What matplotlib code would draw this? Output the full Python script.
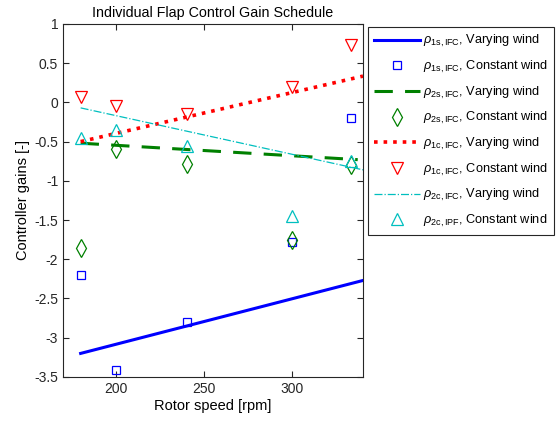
import matplotlib.pyplot as plt

plt.rcParams['font.family'] = ['Liberation Sans', 'DejaVu Sans']
plt.rcParams['mathtext.fontset'] = 'custom'
plt.rcParams['mathtext.rm'] = 'Liberation Sans'
plt.rcParams['mathtext.it'] = 'Liberation Sans:italic'

# Constant wind test points
rpm = [180, 200, 240, 300, 333]
rho_1s = [-2.2, -3.41, -2.8, -1.78, -0.2]
rho_2s = [-1.85, -0.6, -0.78, -1.76, -0.8]
rho_1c = [0.07, -0.05, -0.15, 0.2, 0.73]
rho_2c = [-0.45, -0.35, -0.55, -1.45, -0.75]

# Varying wind schedules (linear fits, endpoints)
rpm_fit = [180, 340]
fit_1s = [-3.2, -2.27]
rpm_fit_2s = [180, 337]
fit_2s = [-0.52, -0.73]
fit_1c = [-0.5, 0.335]
fit_2c = [-0.07, -0.86]

fig = plt.figure(figsize=(5.59, 4.24), dpi=100)
ax = fig.add_axes([0.1127, 0.111, 0.5367, 0.8325])

ax.plot(rpm_fit, fit_1s, '-', color='#0000ff', lw=2.2,
        label=r'$\rho_{\mathrm{1s,IFC}}$, Varying wind')
ax.plot(rpm, rho_1s, 's', mfc='none', mec='#0000ff', ms=6, mew=0.9,
        label=r'$\rho_{\mathrm{1s,IFC}}$, Constant wind')
ax.plot(rpm_fit_2s, fit_2s, '--', color='#008000', lw=2.2, dashes=(6, 4),
        label=r'$\rho_{\mathrm{2s,IFC}}$, Varying wind')
ax.plot(rpm, rho_2s, 'd', mfc='none', mec='#008000', ms=9, mew=0.9,
        label=r'$\rho_{\mathrm{2s,IFC}}$, Constant wind')
ax.plot(rpm_fit, fit_1c, ':', color='#ff0000', lw=2.6,
        label=r'$\rho_{\mathrm{1c,IFC}}$, Varying wind')
ax.plot(rpm, rho_1c, 'v', mfc='none', mec='#ff0000', ms=8, mew=0.9,
        label=r'$\rho_{\mathrm{1c,IFC}}$, Constant wind')
ax.plot(rpm_fit, fit_2c, '-.', color='#00bfbf', lw=0.9,
        label=r'$\rho_{\mathrm{2c,IFC}}$, Varying wind')
ax.plot(rpm, rho_2c, '^', mfc='none', mec='#00bfbf', ms=8, mew=0.9,
        label=r'$\rho_{\mathrm{2c,IPF}}$, Constant wind')

ax.set_xlim(170, 340)
ax.set_ylim(-3.5, 1)
ax.set_xticks([200, 250, 300])
ax.set_yticks([-3.5, -3, -2.5, -2, -1.5, -1, -0.5, 0, 0.5, 1])
ax.set_yticklabels(['-3.5', '-3', '-2.5', '-2', '-1.5', '-1', '-0.5', '0', '0.5', '1'])
ax.tick_params(direction='in', top=True, right=True, labelsize=10, length=4,
               color='#262626', labelcolor='#262626')
for s in ax.spines.values():
    s.set_color('#262626')
    s.set_linewidth(0.8)

ax.set_title('Individual Flap Control Gain Schedule', fontsize=10.3, pad=5)
ax.set_xlabel('Rotor speed [rpm]', fontsize=10.5, labelpad=2)
ax.set_ylabel('Controller gains [-]', fontsize=10.5, labelpad=3)

leg = fig.legend(loc='upper left', bbox_to_anchor=(368 / 559, 1 - 27 / 424),
                 fontsize=9.2, handlelength=3.6, fancybox=False, framealpha=1,
                 edgecolor='#262626', borderpad=0.5, labelspacing=0.75,
                 handletextpad=0.2, borderaxespad=0)
leg.get_frame().set_linewidth(0.8)

fig.savefig('out.png', dpi=100)
